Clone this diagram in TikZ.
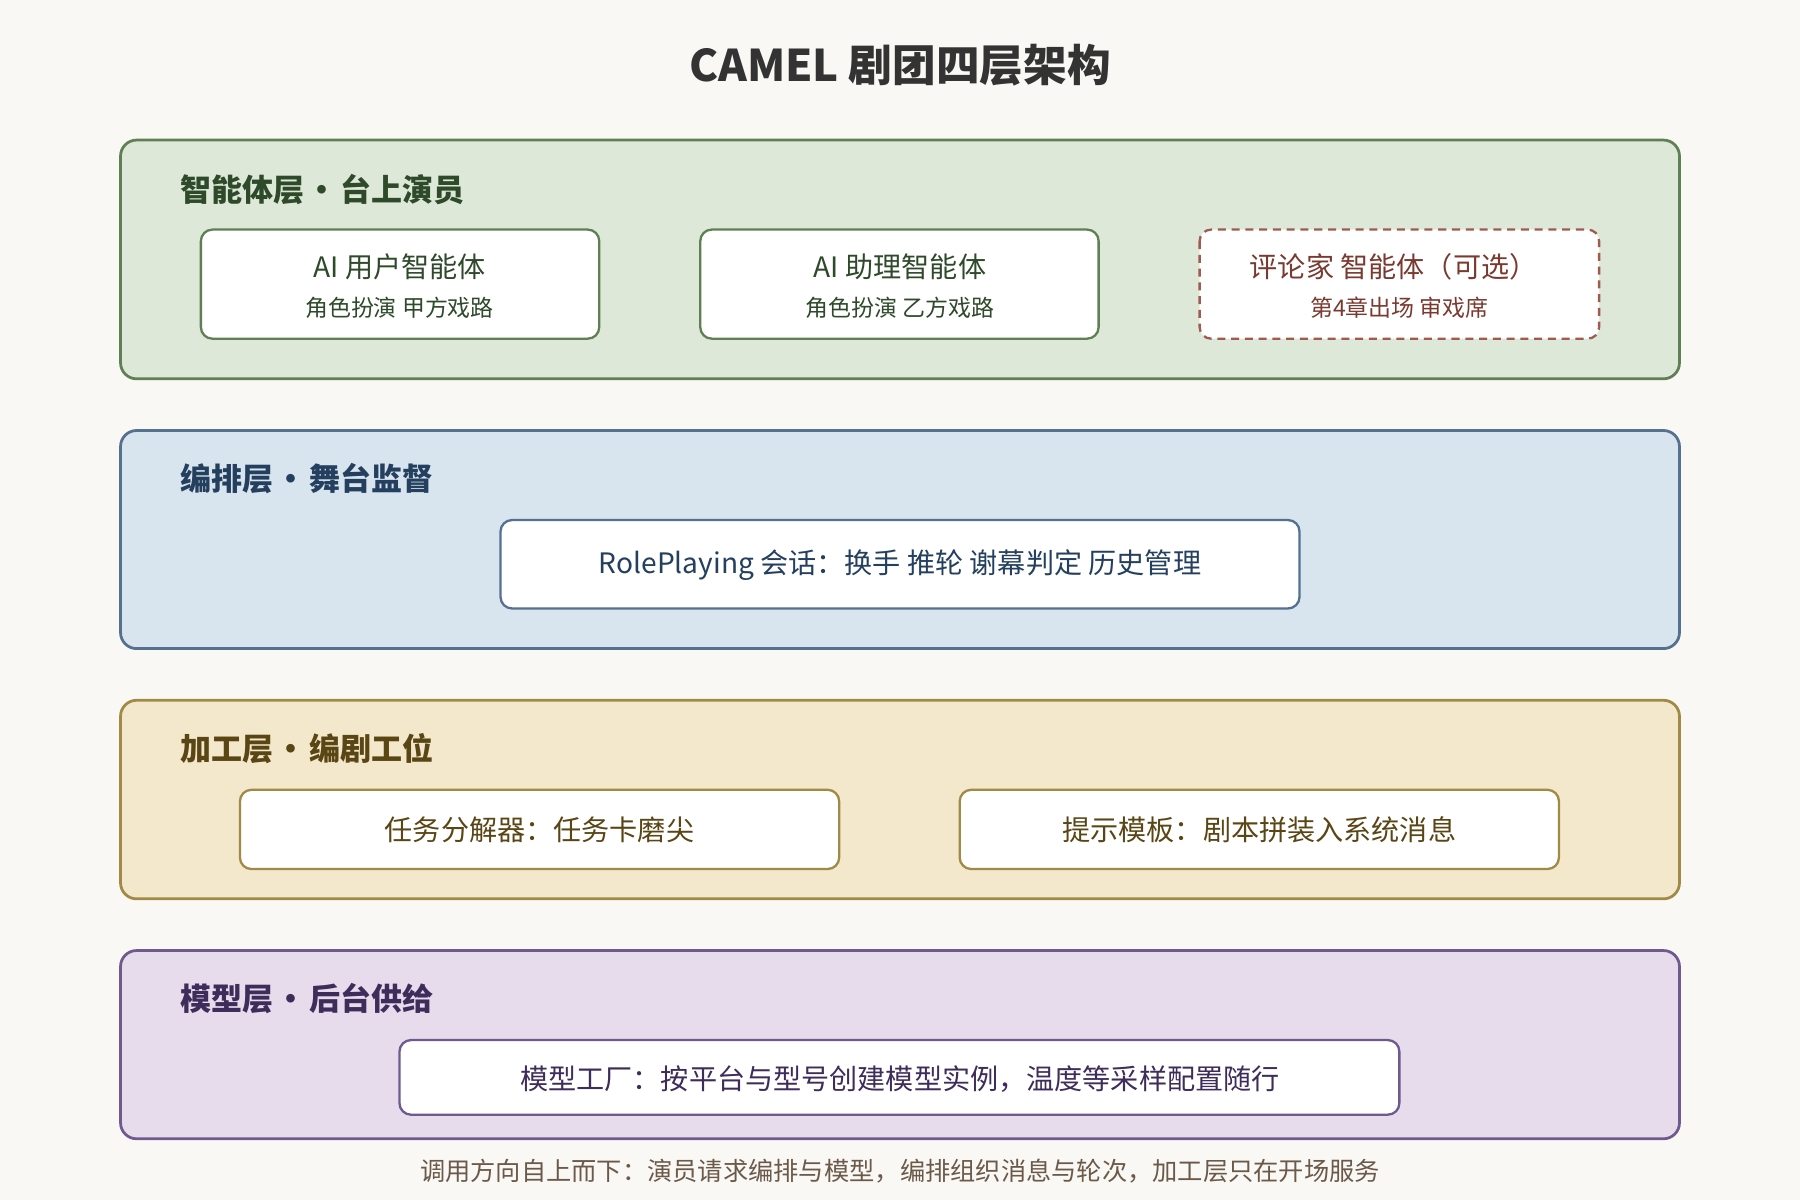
\documentclass[tikz,border=0pt]{standalone}
\usepackage{fontspec}
\setmainfont{Noto Sans CJK SC}
\usetikzlibrary{positioning}
\definecolor{bgpage}{HTML}{FAF8F4}
\definecolor{agfill}{HTML}{DDE8D8}\definecolor{agline}{HTML}{5F7F55}\definecolor{agtext}{HTML}{2E4A2A}
\definecolor{orfill}{HTML}{D8E4EE}\definecolor{orline}{HTML}{56708F}\definecolor{ortext}{HTML}{25405F}
\definecolor{prfill}{HTML}{F3E8CC}\definecolor{prline}{HTML}{A08A45}\definecolor{prtext}{HTML}{5A4515}
\definecolor{mdfill}{HTML}{E6DCEC}\definecolor{mdline}{HTML}{6E5A8F}\definecolor{mdtext}{HTML}{3E2C5A}
\definecolor{crline}{HTML}{A05A50}\definecolor{crtext}{HTML}{7A3A30}
\definecolor{foot}{HTML}{6B5A4A}
\newcommand{\sepdot}{\hspace{2pt}•\hspace{2pt}}
\tikzset{
  layer/.style={draw=#1line,fill=#1fill,line width=2.4pt,rounded corners=14pt},
  ltitle/.style={anchor=west,inner sep=0pt,text=#1text,font=\fontsize{27}{30}\selectfont\bfseries},
  item/.style={draw=#1line,fill=white,line width=2pt,rounded corners=10pt},
  itext/.style={inner sep=0pt,text=#1text,font=\fontsize{24.5}{28}\selectfont},
  isub/.style={inner sep=0pt,text=#1text,font=\fontsize{20}{23}\selectfont},
}
\begin{document}
\begin{tikzpicture}[x=1pt,y=1pt,yscale=-1]
  \fill[bgpage] (0,0) rectangle (1568,1045);
  \useasboundingbox (0,0) rectangle (1568,1045);

  % title
  \node[inner sep=0pt,text=black!80,font=\fontsize{38}{42}\selectfont\bfseries] (title) at (784,57) {CAMEL 剧团四层架构};

  % agent layer
  \draw[layer=ag] (105,122) rectangle (1463,330);
  \node[ltitle=ag] (agtitle) at (157,165) {智能体层\sepdot 台上演员};
  \draw[item=ag] (175,200) rectangle (522,295);
  \node[itext=ag] (user) at (348,232) {AI 用户智能体};
  \node[isub=ag] (usersub) at (348,268) {角色扮演 甲方戏路};
  \draw[item=ag] (610,200) rectangle (957,295);
  \node[itext=ag] (assist) at (784,232) {AI 助理智能体};
  \node[isub=ag] (assistsub) at (784,268) {角色扮演 乙方戏路};
  \draw[item=cr,dashed,dash pattern=on 7pt off 5pt] (1045,200) rectangle (1393,295);
  \node[itext=cr] (critic) at (1214,232) {评论家 智能体（可选）};
  \node[isub=cr] (criticsub) at (1219,268) {第4章出场 审戏席};

  % orchestration layer
  \draw[layer=or] (105,375) rectangle (1463,565);
  \node[ltitle=or] (ortitle) at (157,417) {编排层\sepdot 舞台监督};
  \draw[item=or] (436,453) rectangle (1132,530);
  \node[itext=or] (session) at (784,492) {RolePlaying 会话：换手 推轮 谢幕判定 历史管理};

  % processing layer
  \draw[layer=pr] (105,610) rectangle (1463,783);
  \node[ltitle=pr] (prtitle) at (157,652) {加工层\sepdot 编剧工位};
  \draw[item=pr] (209,688) rectangle (731,757);
  \node[itext=pr] (task) at (470,723) {任务分解器：任务卡磨尖};
  \draw[item=pr] (836,688) rectangle (1358,757);
  \node[itext=pr] (prompt) at (1097,723) {提示模板：剧本拼装入系统消息};

  % model layer
  \draw[layer=md] (105,828) rectangle (1463,992);
  \node[ltitle=md] (mdtitle) at (157,870) {模型层\sepdot 后台供给};
  \draw[item=md] (348,906) rectangle (1219,971);
  \node[itext=md] (factory) at (784,940) {模型工厂：按平台与型号创建模型实例，温度等采样配置随行};

  % footer
  \node[inner sep=0pt,text=foot,font=\fontsize{22}{26}\selectfont] (note) at (784,1020) {调用方向自上而下：演员请求编排与模型，编排组织消息与轮次，加工层只在开场服务};
\end{tikzpicture}
\end{document}
